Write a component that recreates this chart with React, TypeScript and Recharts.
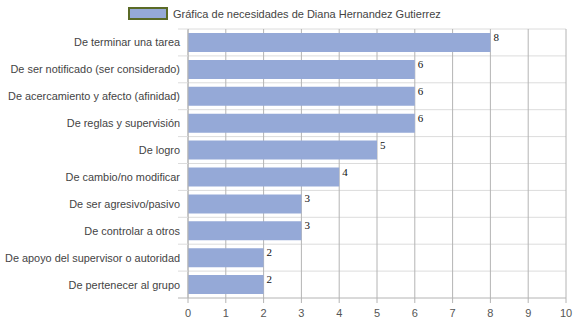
import React from 'react';
import { BarChart, Bar, XAxis, YAxis, CartesianGrid, LabelList } from 'recharts';

const categories = [
  'De terminar una tarea',
  'De ser notificado (ser considerado)',
  'De acercamiento y afecto (afinidad)',
  'De reglas y supervisión',
  'De logro',
  'De cambio/no modificar',
  'De ser agresivo/pasivo',
  'De controlar a otros',
  'De apoyo del supervisor o autoridad',
  'De pertenecer al grupo',
];
const values = [8, 6, 6, 6, 5, 4, 3, 3, 2, 2];
const xTicks = [0, 1, 2, 3, 4, 5, 6, 7, 8, 9, 10];
const seriesName = 'Gráfica de necesidades de Diana Hernandez Gutierrez';

const data = categories.map((name, i) => ({ name, value: values[i] }));

const W = 574;
const H = 323;
const yAxisW = 188;
const margin = { top: 29, right: 8, bottom: 0, left: 0 };
const plotH = H - margin.top - margin.bottom - 25;
const step = plotH / categories.length;
const font = 'Liberation Sans, Arial, sans-serif';
const axisX = margin.left + yAxisW;

const CategoryTick = ({ y, payload, index }: any) => (
  <g>
    <line x1={axisX - 10} x2={axisX} y1={y - step / 2} y2={y - step / 2} stroke="#dcdcdc" />
    {index === categories.length - 1 && (
      <line x1={axisX - 10} x2={axisX} y1={y + step / 2} y2={y + step / 2} stroke="#b4b4b4" />
    )}
    <text x={axisX - 8} y={y} dy={4} textAnchor="end" fontSize={10.9} fill="#444" fontFamily={font}>
      {payload.value}
    </text>
  </g>
);

const NumberTick = ({ x, y, payload }: any) => (
  <text x={x} y={y} dy={12} textAnchor="middle" fontSize={11} fill="#555" fontFamily={font}>
    {payload.value}
  </text>
);

const ValueLabel = ({ x, y, width, value }: any) => (
  <text x={x + width + 3} y={y + 8} fontSize={11} fill="#111" fontFamily="Liberation Serif, serif">
    {value}
  </text>
);

export default function App() {
  return (
    <div style={{ position: 'absolute', left: 0, top: 0, width: W, height: H, background: '#fff' }}>
      <div
        style={{
          position: 'absolute', left: 128, top: 7, display: 'flex', alignItems: 'center',
          fontFamily: font, fontSize: 11, color: '#444', whiteSpace: 'nowrap',
        }}
      >
        <span style={{ display: 'inline-block', width: 36, height: 9, background: '#95a9d7', border: '2px solid #5a6a26', marginRight: 5 }} />
        <span>{seriesName}</span>
      </div>
      <BarChart width={W} height={H} data={data} layout="vertical" margin={margin} barCategoryGap={4}>
        <CartesianGrid
          stroke="#dcdcdc"
          vertical={false}
          horizontalCoordinatesGenerator={({ offset }: any) =>
            categories.map((_, i) => offset.top + i * (offset.height / categories.length))
          }
        />
        <CartesianGrid stroke="#b4b4b4" horizontal={false} verticalValues={xTicks} />
        <XAxis
          type="number"
          domain={[0, 10]}
          ticks={xTicks}
          interval={0}
          height={25}
          stroke="#b4b4b4"
          tickSize={5}
          tick={<NumberTick />}
        />
        <YAxis
          type="category"
          dataKey="name"
          width={yAxisW}
          stroke="#b4b4b4"
          tickLine={false}
          interval={0}
          tick={<CategoryTick />}
        />
        <Bar dataKey="value" name={seriesName} fill="#95a9d7" isAnimationActive={false}>
          <LabelList dataKey="value" content={<ValueLabel />} />
        </Bar>
      </BarChart>
    </div>
  );
}
